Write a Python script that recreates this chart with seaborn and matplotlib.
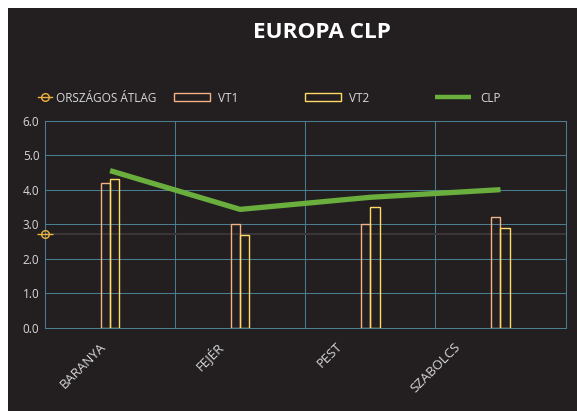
import numpy as np
import pandas as pd
import matplotlib
matplotlib.use('Agg')
import matplotlib.pyplot as plt
import matplotlib.transforms as mtransforms
from matplotlib.patches import Rectangle, Patch
from matplotlib.lines import Line2D
import seaborn as sns

# data
regions = ['BARANYA', 'FEJÉR', 'PEST', 'SZABOLCS']
vt1 = [4.2, 3.0, 3.0, 3.2]
vt2 = [4.3, 2.7, 3.5, 2.9]
clp = [4.55, 3.43, 3.78, 4.0]
orszagos_atlag = 2.72
y_ticks = [0, 1, 2, 3, 4, 5, 6]

bg = '#231f20'
grid_col = '#4a7d92'
txt_col = '#d9d9d9'
vt1_col = '#f4b183'
vt2_col = '#ffd966'
clp_col = '#6aaf3d'
avg_col = '#eeb33e'

plt.rcParams['font.family'] = ['Open Sans', 'DejaVu Sans']

df = pd.DataFrame({'region': regions * 2,
                   'value': vt1 + vt2,
                   'series': ['VT1'] * len(regions) + ['VT2'] * len(regions)})

fig = plt.figure(figsize=(5.77, 4.11), dpi=100, facecolor='white')
# dark chart panel (spreadsheet visible on top/left edge)
fig.add_artist(Rectangle((8 / 577, 0), 1, (411 - 8) / 411, transform=fig.transFigure,
                         facecolor=bg, edgecolor='none', zorder=0))

ax = fig.add_axes([45 / 577, 1 - 328 / 411, (565.5 - 45) / 577, (328 - 120.5) / 411])
ax.set_facecolor(bg)

# average line behind everything
ax.axhline(orszagos_atlag, color='#3a3536', lw=1.5, zorder=1)

sns.barplot(data=df, x='region', y='value', hue='series', order=regions,
            palette={'VT1': vt1_col, 'VT2': vt2_col}, fill=False, width=0.143,
            linewidth=1.0, legend=False, ax=ax, zorder=3, errorbar=None)

pos = np.arange(len(regions))
sns.lineplot(x=pos, y=clp, color=clp_col, lw=3.8, ax=ax, zorder=5,
             solid_capstyle='butt')

# average marker at the left edge
ax.plot([-0.5], [orszagos_atlag], marker='o', ms=5.5, mfc='none', mec=avg_col,
        mew=1.0, clip_on=False, zorder=6)
ax.plot([-0.5], [orszagos_atlag], marker='_', ms=11, mec=avg_col,
        mew=1.0, clip_on=False, zorder=6)

ax.set_xlim(-0.5, len(regions) - 0.5)
ax.set_ylim(0, 6)
ax.set_yticks(y_ticks)
ax.set_yticklabels([f'{v:.1f}' for v in y_ticks])
ax.set_xticks(pos)
ax.set_xticklabels(regions)
ax.set_xticks(np.arange(-0.5, len(regions)), minor=True)
ax.tick_params(axis='both', which='both', length=0, colors=txt_col, labelsize=8.5)
ax.tick_params(axis='x', labelsize=9.5, pad=12)
ax.tick_params(axis='y', pad=4)
ax.grid(axis='y', which='major', color=grid_col, lw=0.75, zorder=0)
ax.grid(axis='x', which='minor', color=grid_col, lw=0.75, zorder=0)
ax.grid(axis='x', which='major', visible=False)
ax.set_axisbelow(True)
for s in ax.spines.values():
    s.set_color(grid_col)
    s.set_linewidth(0.75)
ax.set_xlabel('')
ax.set_ylabel('')

# excel-style rotated category labels
label_shift = [-6, -19, -30, -42]
for lab, dx in zip(ax.get_xticklabels(), label_shift):
    lab.set_rotation(45)
    lab.set_ha('right')
    lab.set_va('center')
    lab.set_rotation_mode('anchor')
    lab.set_transform(lab.get_transform() +
                      mtransforms.ScaledTranslation(dx / 100, 0, fig.dpi_scale_trans))

fig.text(322 / 577, 1 - 33 / 411, 'EUROPA CLP', ha='center', va='center',
         color='white', fontsize=16.2, fontweight='bold')

# legend entries spread like the excel one
leg_y = 1 - 98 / 411
entries = [
    (Line2D([], [], color=avg_col, marker='o', mfc='none', ms=5.5, lw=1.0),
     'ORSZÁGOS ÁTLAG', 38, 1.2, 0.35),
    (Patch(facecolor='none', edgecolor=vt1_col, lw=1.0), 'VT1', 174, 3.05, 0.65),
    (Patch(facecolor='none', edgecolor=vt2_col, lw=1.0), 'VT2', 305, 3.05, 0.65),
    (Line2D([], [], color=clp_col, lw=3.2, solid_capstyle='butt'), 'CLP', 435, 3.05, 0.75),
]
for h, lab, xpx, hl, tp in entries:
    fig.legend(handles=[h], labels=[lab], loc='center left',
               bbox_to_anchor=(xpx / 577, leg_y), frameon=False, borderpad=0,
               borderaxespad=0, handlelength=hl, handletextpad=tp,
               fontsize=8.5, labelcolor=txt_col)

fig.savefig('out.png', dpi=100, facecolor=fig.get_facecolor())
